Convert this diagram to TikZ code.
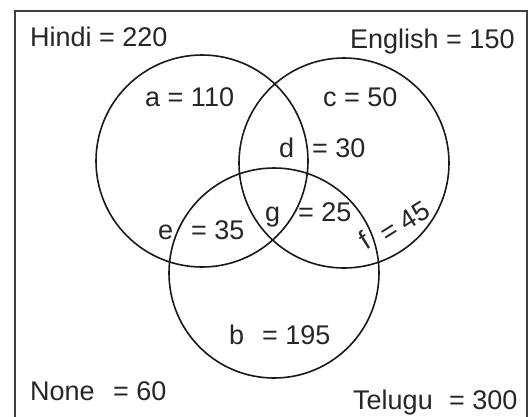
\documentclass[tikz,border=0pt]{standalone}
\usepackage{fontspec}
\setmainfont{Liberation Sans}
\begin{document}
\begin{tikzpicture}[x=1pt,y=-1pt,
  venn/.style={circle,draw=black!90,line width=1.6pt,inner sep=0pt},
  lbl/.style={anchor=base west,inner sep=0pt,font=\fontsize{27}{30}\selectfont,text=black!85},
  slant/.style={anchor=center,inner sep=0pt,font=\fontsize{27}{30}\selectfont,text=black!85,rotate=32}]
\useasboundingbox (0,0) rectangle (530,416);
\fill[white] (0,0) rectangle (530,416);
\draw[black!75,line width=1.8pt] (15,420) -- (15,11) -- (527,11) -- (527,420);
\node[venn,minimum size=212pt] (H) at (202,161) {};
\node[venn,minimum size=210pt] (E) at (344,163) {};
\node[venn,minimum size=210pt] (T) at (274,273) {};
\node[lbl] (hindi) at (30,46.5) {Hindi = 220};
\node[lbl] (english) at (350,48) {English = 150};
\node[lbl] (a) at (145,106) {a = 110};
\node[lbl] (c) at (323,106) {c = 50};
\node[lbl] (d) at (279,157) {d};
\node[lbl] (dv) at (312,157) {= 30};
\node[lbl] (e) at (158,239) {e};
\node[lbl] (ev) at (191,239) {= 35};
\node[lbl] (g) at (265,221) {g};
\node[lbl] (gv) at (298,221) {= 25};
\node[slant] (f) at (364,240) {f};
\node[slant] (fv) at (405,222) {= 45};
\node[lbl] (b) at (229,344) {b};
\node[lbl] (bv) at (262,344) {= 195};
\node[lbl] (none) at (30,400) {None};
\node[lbl] (nonev) at (113,400) {= 60};
\node[lbl] (telugu) at (353,409) {Telugu};
\node[lbl] (teluguv) at (449,409) {= 300};
\end{tikzpicture}
\end{document}
